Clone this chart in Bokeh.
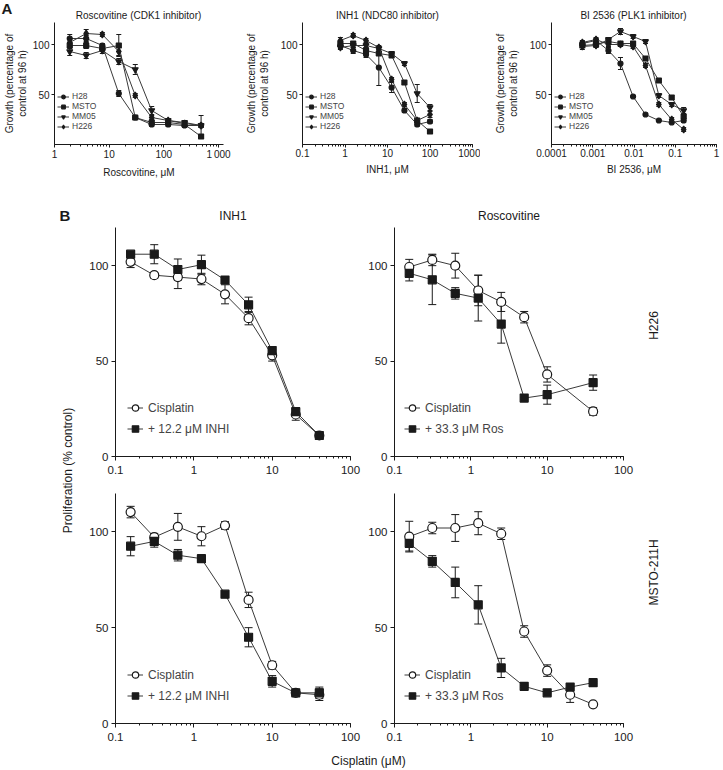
from bokeh.plotting import figure
from bokeh.layouts import row, column
from bokeh.models import (ColumnDataSource, Whisker, TeeHead, Label, Legend, LegendItem,
                          FixedTicker, CustomJSTickFormatter)
from bokeh.embed import file_html
from bokeh.resources import INLINE

FONT = "Liberation Sans"
INK = "#1a1a1a"
LINE = "#3a3a3a"

# ---------------- Panel A data ----------------
cell_lines = ["H28", "MSTO", "MM05", "H226"]

ros_conc = [1.9, 3.8, 7.5, 15, 30, 60, 120, 240, 480]
ros_H28 = [106, 106, 99, 51, 27, 20, 20, 19, 19]
ros_MSTO = [99, 99, 96, 99, 27, 22, 22, 20, 8]
ros_MM05 = [93, 89, 94, 83, 75, 34, 24, 22, 19]
ros_H226 = [102, 111, 110, 93, 49, 27, 24, 21, 19]
ros_H28_err = [4, 3, 2, 3, 2, 2, 2, 2, 10]
ros_MSTO_err = [3, 3, 3, 11, 2, 2, 2, 2, 2]
ros_MM05_err = [4, 3, 3, 3, 5, 4, 2, 2, 2]
ros_H226_err = [4, 4, 2, 4, 2, 2, 2, 2, 2]

inh_conc = [0.78, 1.56, 3.125, 6.25, 12.5, 25, 50, 100]
inh_H28 = [99, 94, 90, 77, 57, 34, 20, 23]
inh_MSTO = [101, 101, 94, 91, 89, 62, 24, 13]
inh_MM05 = [97, 99, 99, 96, 91, 81, 51, 37]
inh_H226 = [104, 109, 104, 97, 65, 40, 24, 30]
inh_H28_err = [3, 3, 3, 18, 5, 2, 2, 2]
inh_MSTO_err = [3, 2, 3, 2, 2, 2, 2, 1]
inh_MM05_err = [2, 2, 2, 2, 2, 2, 9, 3]
inh_H226_err = [3, 2, 2, 2, 2, 2, 2, 3]

bi_conc = [0.00056, 0.0012, 0.0024, 0.0047, 0.0095, 0.019, 0.04, 0.082, 0.16]
bi_H28 = [101, 104, 94, 81, 48, 30, 24, 22, 24]
bi_MSTO = [99, 100, 103, 101, 101, 86, 64, 47, 28]
bi_MM05 = [98, 99, 105, 113, 108, 103, 49, 40, 34]
bi_H226 = [102, 105, 100, 100, 98, 79, 40, 25, 15]
bi_H28_err = [2, 2, 3, 6, 1, 1, 1, 1, 2]
bi_MSTO_err = [2, 2, 2, 2, 2, 2, 2, 2, 2]
bi_MM05_err = [3, 2, 2, 3, 2, 2, 2, 2, 3]
bi_H226_err = [2, 2, 2, 2, 2, 2, 2, 2, 2]

panel_a_titles = ["Roscovitine (CDK1 inhibitor)", "INH1 (NDC80 inhibitor)", "BI 2536 (PLK1 inhibitor)"]

# ---------------- Panel B data ----------------
cis_conc = [0.156, 0.3125, 0.625, 1.25, 2.5, 5, 10, 20, 40]
cis_conc_ros_h226 = [0.156, 0.3125, 0.625, 1.25, 2.5, 5, 10, 40]

h226_inh_cis = [102, 95, 94, 93, 85, 72.5, 53, 22, 11]
h226_inh_cis_err = [3, 1.5, 6, 3, 5, 3.5, 3, 3, 1]
h226_inh_comb = [106, 106, 98, 100.5, 92.5, 79.5, 55.5, 23.5, 11]
h226_inh_comb_err = [1, 5, 5.5, 5, 1, 4, 2, 2, 1]

h226_ros_cis = [99.3, 103, 100, 87, 81, 73, 43, 23.6]
h226_ros_cis_err = [4, 3, 6.5, 8, 5, 3, 4, 2]
h226_ros_comb = [96, 92.6, 85.5, 83, 69.4, 30.6, 32.4, 38.7]
h226_ros_comb_err = [4, 13, 3, 12, 10, 0.5, 5, 4]

msto_inh_cis = [110.3, 97.2, 102.6, 97.7, 103.3, 64.5, 30.4, 16, 15]
msto_inh_cis_err = [3, 2, 7, 5, 2, 4, 2, 1, 3]
msto_inh_comb = [92.5, 95, 87.8, 86, 67.5, 45, 22, 16, 16]
msto_inh_comb_err = [5, 3, 3, 1, 1, 5, 3, 1, 3]

msto_ros_cis = [97.5, 102, 102, 104.5, 99, 48, 27.6, 15, 10]
msto_ros_cis_err = [8, 3, 7, 6, 3, 3, 3, 4, 0.5]
msto_ros_comb = [94, 84.6, 73.6, 61.9, 29, 19.4, 16, 19, 21.3]
msto_ros_comb_err = [4, 3, 8, 10, 5, 0.5, 0.5, 1, 0.5]

MARK = {"H28": "circle", "MSTO": "square", "MM05": "inverted_triangle", "H226": "diamond"}
MSIZE = {"H28": 5, "MSTO": 5, "MM05": 6, "H226": 7}
GROWTH_LABEL = "Growth (percentage of\ncontrol at 96 h)"


def tick_fmt(space_thousands=False):
    code = "var s = String(Number(tick.toPrecision(6)));"
    if space_thousands:
        code += "if (tick > 999 && tick < 1001) { s = '1\u2009000'; }"
    code += "return s;"
    return CustomJSTickFormatter(code=code)


def style_axes(p, tick_size, label_size, tick_out):
    for ax in p.axis:
        ax.axis_line_color = INK
        ax.axis_line_width = 1
        ax.major_tick_line_color = INK
        ax.minor_tick_line_color = INK
        ax.major_tick_in = 0
        ax.major_tick_out = tick_out
        ax.minor_tick_in = 0
        ax.minor_tick_out = 2
        ax.major_label_text_font = FONT
        ax.major_label_text_font_size = tick_size
        ax.major_label_text_color = INK
        ax.axis_label_text_font = FONT
        ax.axis_label_text_font_size = label_size
        ax.axis_label_text_font_style = "normal"
        ax.axis_label_text_color = INK
    p.yaxis.minor_tick_line_color = None
    p.xgrid.visible = False
    p.ygrid.visible = False
    p.outline_line_color = None
    p.background_fill_color = "white"
    p.border_fill_color = "white"


def add_series(p, x, y, err, marker, size, fill, head):
    src = ColumnDataSource(dict(x=x, y=y,
                                upper=[a + e for a, e in zip(y, err)],
                                lower=[a - e for a, e in zip(y, err)]))
    w = Whisker(source=src, base="x", upper="upper", lower="lower", dimension="height",
                line_color=INK, line_width=1,
                upper_head=TeeHead(size=head, line_color=INK, line_width=1),
                lower_head=TeeHead(size=head, line_color=INK, line_width=1))
    p.add_layout(w)
    ln = p.line("x", "y", source=src, line_color=LINE, line_width=1)
    sc = p.scatter("x", "y", source=src, marker=marker, size=size,
                   fill_color=fill, line_color=INK, line_width=1.2)
    return ln, sc


def make_A(width, left, right, xr, xlabel, conc, series, label_standoff, fmt):
    p = figure(width=width, height=169, x_axis_type="log", x_range=xr, y_range=(0, 122),
               toolbar_location=None, output_backend="svg", title=None,
               min_border_left=left, min_border_right=right, min_border_top=1, min_border_bottom=46)
    items = []
    for name, ys, es in series:
        ln, sc = add_series(p, conc, ys, es, MARK[name], MSIZE[name], INK, 5)
        items.append(LegendItem(label=name, renderers=[ln, sc]))
    leg = Legend(items=items, location=(3, 13), label_text_font=FONT, label_text_font_size="8.5px",
                 glyph_height=9, glyph_width=12, label_height=9, spacing=0, padding=0, margin=0,
                 background_fill_alpha=0, border_line_alpha=0, label_standoff=3)
    p.add_layout(leg)
    p.xaxis.axis_label = xlabel
    p.yaxis.axis_label = GROWTH_LABEL
    p.yaxis.ticker = FixedTicker(ticks=[50, 100])
    p.xaxis.formatter = fmt
    style_axes(p, "10px", "10px", 3)
    p.xaxis.axis_label_standoff = 4
    p.yaxis.axis_label_standoff = label_standoff
    p.xaxis.major_label_standoff = 1
    p.yaxis.major_label_standoff = 2
    return p


def strip(width, height):
    p = figure(width=width, height=height, x_range=(0, 1), y_range=(0, 1), toolbar_location=None,
               output_backend="svg", title=None, x_axis_location=None, y_axis_location=None,
               min_border=0)
    p.xgrid.visible = False
    p.ygrid.visible = False
    p.outline_line_color = None
    return p


# ---- row A ----
top_strip = strip(723, 21)
top_strip.add_layout(Label(x=1, y=5, x_units="screen", y_units="screen", text="A",
                           text_font=FONT, text_font_size="15px", text_font_style="bold",
                           text_baseline="bottom", text_align="left", text_color=INK))
for cx, ttl in zip([138, 387, 633], panel_a_titles):
    top_strip.add_layout(Label(x=cx, y=6, x_units="screen", y_units="screen", text=ttl,
                               text_font=FONT, text_font_size="10px", text_align="center",
                               text_baseline="middle", text_color=INK))

A1 = make_A(240, 53, 17, (1, 1234), "Roscovitine, \u03bcM", ros_conc,
            [("H28", ros_H28, ros_H28_err), ("MSTO", ros_MSTO, ros_MSTO_err),
             ("MM05", ros_MM05, ros_MM05_err), ("H226", ros_H226, ros_H226_err)], 2, tick_fmt(True))
A2 = make_A(240, 62, 8, (0.1, 1000), "INH1, \u03bcM", inh_conc,
            [("H28", inh_H28, inh_H28_err), ("MSTO", inh_MSTO, inh_MSTO_err),
             ("MM05", inh_MM05, inh_MM05_err), ("H226", inh_H226, inh_H226_err)], 8, tick_fmt())
A3 = make_A(243, 71, 7, (0.0001, 1), "BI 2536, \u03bcM", bi_conc,
            [("H28", bi_H28, bi_H28_err), ("MSTO", bi_MSTO, bi_MSTO_err),
             ("MM05", bi_MM05, bi_MM05_err), ("H226", bi_H226, bi_H226_err)], 8, tick_fmt())


def make_B(width, height, left, right, top, bottom, title, conc, cis, cis_err, comb, comb_err,
           comb_label, legend_x):
    p = figure(width=width, height=height, x_axis_type="log", x_range=(0.1, 100), y_range=(0, 120),
               toolbar_location=None, output_backend="svg", title=title,
               min_border_left=left, min_border_right=right, min_border_top=top, min_border_bottom=bottom)
    if title is not None:
        p.title.align = "center"
        p.title.text_font = FONT
        p.title.text_font_size = "12px"
        p.title.text_font_style = "normal"
        p.title.text_color = INK
        p.title.standoff = 10
    l1, s1 = add_series(p, conc, cis, cis_err, "circle", 9, "white", 8)
    l2, s2 = add_series(p, conc, comb, comb_err, "square", 8, INK, 8)
    leg = Legend(items=[LegendItem(label="Cisplatin", renderers=[l1, s1]),
                        LegendItem(label=comb_label, renderers=[l2, s2])],
                 location=(legend_x, 17), label_text_font=FONT, label_text_font_size="12px",
                 glyph_height=21, glyph_width=16, label_height=21, spacing=0, padding=0, margin=0,
                 background_fill_alpha=0, border_line_alpha=0, label_standoff=5)
    p.add_layout(leg)
    p.yaxis.ticker = FixedTicker(ticks=[0, 50, 100])
    p.xaxis.formatter = tick_fmt()
    style_axes(p, "11.5px", "12px", 4)
    p.xaxis.major_label_standoff = 5
    p.yaxis.major_label_standoff = 3
    return p


B1 = make_B(289, 291, 39, 15, 37, 25, "INH1", cis_conc, h226_inh_cis, h226_inh_cis_err,
            h226_inh_comb, h226_inh_comb_err, "+ 12.2 \u03bcM INHI", 12)
B2 = make_B(275, 291, 27, 17, 37, 25, "Roscovitine", cis_conc_ros_h226, h226_ros_cis, h226_ros_cis_err,
            h226_ros_comb, h226_ros_comb_err, "+ 33.3 \u03bcM Ros", 10)
B3 = make_B(289, 267, 39, 15, 12, 25, None, cis_conc, msto_inh_cis, msto_inh_cis_err,
            msto_inh_comb, msto_inh_comb_err, "+ 12.2 \u03bcM INHI", 12)
B4 = make_B(275, 267, 27, 17, 12, 25, None, cis_conc, msto_ros_cis, msto_ros_cis_err,
            msto_ros_comb, msto_ros_comb_err, "+ 33.3 \u03bcM Ros", 10)

left_strip = strip(76, 558)
left_strip.add_layout(Label(x=59, y=542, x_units="screen", y_units="screen", text="B",
                            text_font=FONT, text_font_size="15px", text_font_style="bold",
                            text_baseline="top", text_align="left", text_color=INK))
left_strip.add_layout(Label(x=67, y=278, x_units="screen", y_units="screen",
                            text="Proliferation (% control)", angle=90, angle_units="deg",
                            text_align="center", text_baseline="middle",
                            text_font=FONT, text_font_size="12px", text_color=INK))

right_strip = strip(83, 558)
right_strip.add_layout(Label(x=13, y=423, x_units="screen", y_units="screen", text="H226", angle=90,
                             angle_units="deg", text_align="center", text_baseline="middle",
                             text_font=FONT, text_font_size="12px", text_color=INK))
right_strip.add_layout(Label(x=13, y=176, x_units="screen", y_units="screen", text="MSTO-211H", angle=90,
                             angle_units="deg", text_align="center", text_baseline="middle",
                             text_font=FONT, text_font_size="12px", text_color=INK))

bottom_strip = strip(723, 22)
bottom_strip.add_layout(Label(x=368, y=10, x_units="screen", y_units="screen", text="Cisplatin (\u03bcM)",
                              text_align="center", text_baseline="middle",
                              text_font=FONT, text_font_size="12px", text_color=INK))

layout = column(top_strip,
                row(A1, A2, A3),
                row(left_strip, column(row(B1, B2), row(B3, B4)), right_strip),
                bottom_strip)

open("out.html", "w").write(file_html(layout, INLINE))
